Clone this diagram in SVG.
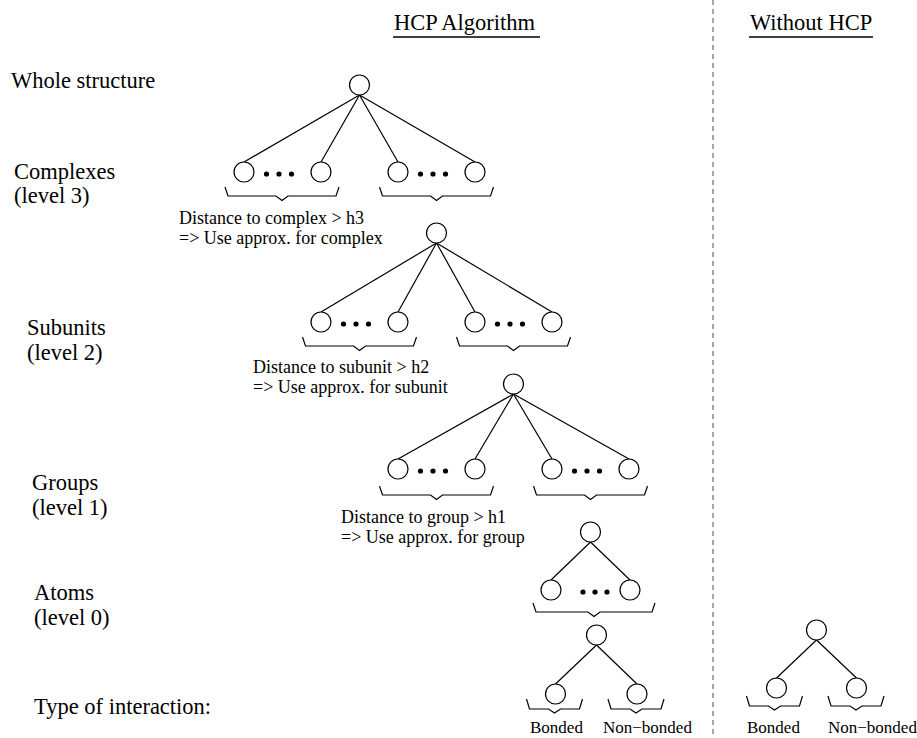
<svg xmlns="http://www.w3.org/2000/svg" width="917" height="738" viewBox="0 0 917 738">
<style>
text{font-family:"Liberation Serif","Times New Roman",serif;fill:#000}
.lab{font-size:22.5px}
.sm{font-size:18px}
.tiny{font-size:17px}
.n{fill:#fff;stroke:#000;stroke-width:1.2}
.d{fill:#000}
.e{stroke:#000;stroke-width:1.2;fill:none}
.b{stroke:#000;stroke-width:1.2;fill:none;stroke-linejoin:miter}
</style>
<defs>
<path id="brace" d="M-57,0 L-54,9 L-6,9 L0,13.5 L6,9 L54,9 L57,0"/>
<path id="brace2" d="M-28,0 L-25,10 L-6,10 L0,14 L6,10 L25,10 L28,0"/>
</defs>
<rect width="917" height="738" fill="#fff"/>
<line x1="713" y1="0" x2="713" y2="738" stroke="#888" stroke-width="1.5" stroke-dasharray="5,4"/>
<g id="headers">
<text class="lab" x="394" y="30">HCP Algorithm</text>
<line x1="393" y1="37" x2="540" y2="37" stroke="#000" stroke-width="1.3"/>
<text class="lab" x="750" y="30">Without HCP</text>
<line x1="749" y1="37" x2="873" y2="37" stroke="#000" stroke-width="1.3"/>
</g>
<g id="labels">
<text class="lab" x="11" y="88">Whole structure</text>
<text class="lab" x="14" y="179">Complexes</text>
<text class="lab" x="14" y="203">(level 3)</text>
<text class="lab" x="27" y="335">Subunits</text>
<text class="lab" x="27" y="360">(level 2)</text>
<text class="lab" x="32" y="490">Groups</text>
<text class="lab" x="32" y="515">(level 1)</text>
<text class="lab" x="34" y="600">Atoms</text>
<text class="lab" x="34" y="625">(level 0)</text>
<text class="lab" x="34" y="714">Type of interaction:</text>
<text class="sm" x="179" y="224">Distance to complex &gt; h3</text>
<text class="sm" x="179" y="243.5">=&gt; Use approx. for complex</text>
<text class="sm" x="253" y="373">Distance to subunit &gt; h2</text>
<text class="sm" x="253" y="392.5">=&gt; Use approx. for subunit</text>
<text class="sm" x="341" y="523">Distance to group &gt; h1</text>
<text class="sm" x="341" y="542.5">=&gt; Use approx. for group</text>
<text class="tiny" x="530" y="733">Bonded</text>
<text class="tiny" x="603" y="733">Non−bonded</text>
<text class="tiny" x="747" y="733">Bonded</text>
<text class="tiny" x="828" y="733">Non−bonded</text>
</g>
<g id="connectors" class="e">
<line x1="359.5" y1="95" x2="244" y2="162"/>
<line x1="359.5" y1="95" x2="321" y2="162"/>
<line x1="359.5" y1="95" x2="398" y2="162"/>
<line x1="359.5" y1="95" x2="475" y2="162"/>
<line x1="436.5" y1="243" x2="321" y2="312"/>
<line x1="436.5" y1="243" x2="398" y2="312"/>
<line x1="436.5" y1="243" x2="475" y2="312"/>
<line x1="436.5" y1="243" x2="552" y2="312"/>
<line x1="513.5" y1="394" x2="398" y2="459"/>
<line x1="513.5" y1="394" x2="475" y2="459"/>
<line x1="513.5" y1="394" x2="552" y2="459"/>
<line x1="513.5" y1="394" x2="629" y2="459"/>
<line x1="590.5" y1="542" x2="551" y2="580"/>
<line x1="590.5" y1="542" x2="630" y2="580"/>
<line x1="596.5" y1="645" x2="555.5" y2="684"/>
<line x1="596.5" y1="645" x2="637" y2="684"/>
<line x1="816.5" y1="640" x2="776.5" y2="678"/>
<line x1="816.5" y1="640" x2="856.5" y2="678"/>
</g>
<g id="braces" class="b">
<use href="#brace" x="282" y="187"/>
<use href="#brace" x="436.5" y="187"/>
<use href="#brace" x="359.5" y="337"/>
<use href="#brace" x="513.5" y="337"/>
<use href="#brace" x="436.5" y="486"/>
<use href="#brace" x="590.5" y="486"/>
<path d="M533,603 L536,612 L588,612 L594,616.5 L600,612 L652,612 L655,603"/>
<use href="#brace2" x="554.5" y="699"/>
<use href="#brace2" x="636" y="699"/>
<use href="#brace2" x="774.5" y="696"/>
<use href="#brace2" x="856" y="696"/>
</g>
<g id="whole"><circle class="n" cx="359.5" cy="85" r="10"/></g>
<g id="complexes">
<circle class="n" cx="244" cy="172" r="10"/><circle class="n" cx="321" cy="172" r="10"/>
<circle class="n" cx="398" cy="172" r="10"/><circle class="n" cx="475" cy="172" r="10"/>
<circle class="d" cx="266.5" cy="174" r="2.6"/><circle class="d" cx="279" cy="174" r="2.6"/><circle class="d" cx="291.5" cy="174" r="2.6"/>
<circle class="d" cx="420.5" cy="174" r="2.6"/><circle class="d" cx="433" cy="174" r="2.6"/><circle class="d" cx="445.5" cy="174" r="2.6"/>
</g>
<g id="complex"><circle class="n" cx="436.5" cy="233" r="10"/></g>
<g id="subunits">
<circle class="n" cx="321" cy="322" r="10"/><circle class="n" cx="398" cy="322" r="10"/>
<circle class="n" cx="475" cy="322" r="10"/><circle class="n" cx="552" cy="322" r="10"/>
<circle class="d" cx="343.5" cy="324" r="2.6"/><circle class="d" cx="356" cy="324" r="2.6"/><circle class="d" cx="368.5" cy="324" r="2.6"/>
<circle class="d" cx="497.5" cy="324" r="2.6"/><circle class="d" cx="510" cy="324" r="2.6"/><circle class="d" cx="522.5" cy="324" r="2.6"/>
</g>
<g id="subunit"><circle class="n" cx="513.5" cy="384" r="10"/></g>
<g id="groups">
<circle class="n" cx="398" cy="469" r="10"/><circle class="n" cx="475" cy="469" r="10"/>
<circle class="n" cx="552" cy="469" r="10"/><circle class="n" cx="629" cy="469" r="10"/>
<circle class="d" cx="420.5" cy="471" r="2.6"/><circle class="d" cx="433" cy="471" r="2.6"/><circle class="d" cx="445.5" cy="471" r="2.6"/>
<circle class="d" cx="574.5" cy="471" r="2.6"/><circle class="d" cx="587" cy="471" r="2.6"/><circle class="d" cx="599.5" cy="471" r="2.6"/>
</g>
<g id="group"><circle class="n" cx="590.5" cy="532" r="10"/></g>
<g id="atoms">
<circle class="n" cx="551" cy="590" r="10"/><circle class="n" cx="630" cy="590" r="10"/>
<circle class="d" cx="583" cy="592" r="2.6"/><circle class="d" cx="595" cy="592" r="2.6"/><circle class="d" cx="607" cy="592" r="2.6"/>
</g>
<g id="atom"><circle class="n" cx="596.5" cy="635" r="10"/></g>
<g id="interactions">
<circle class="n" cx="555.5" cy="694" r="10"/><circle class="n" cx="637" cy="694" r="10"/>
</g>
<g id="nohcp-root"><circle class="n" cx="816.5" cy="630" r="10"/></g>
<g id="nohcp-interactions">
<circle class="n" cx="776.5" cy="688" r="10"/><circle class="n" cx="856.5" cy="688" r="10"/>
</g>
</svg>
